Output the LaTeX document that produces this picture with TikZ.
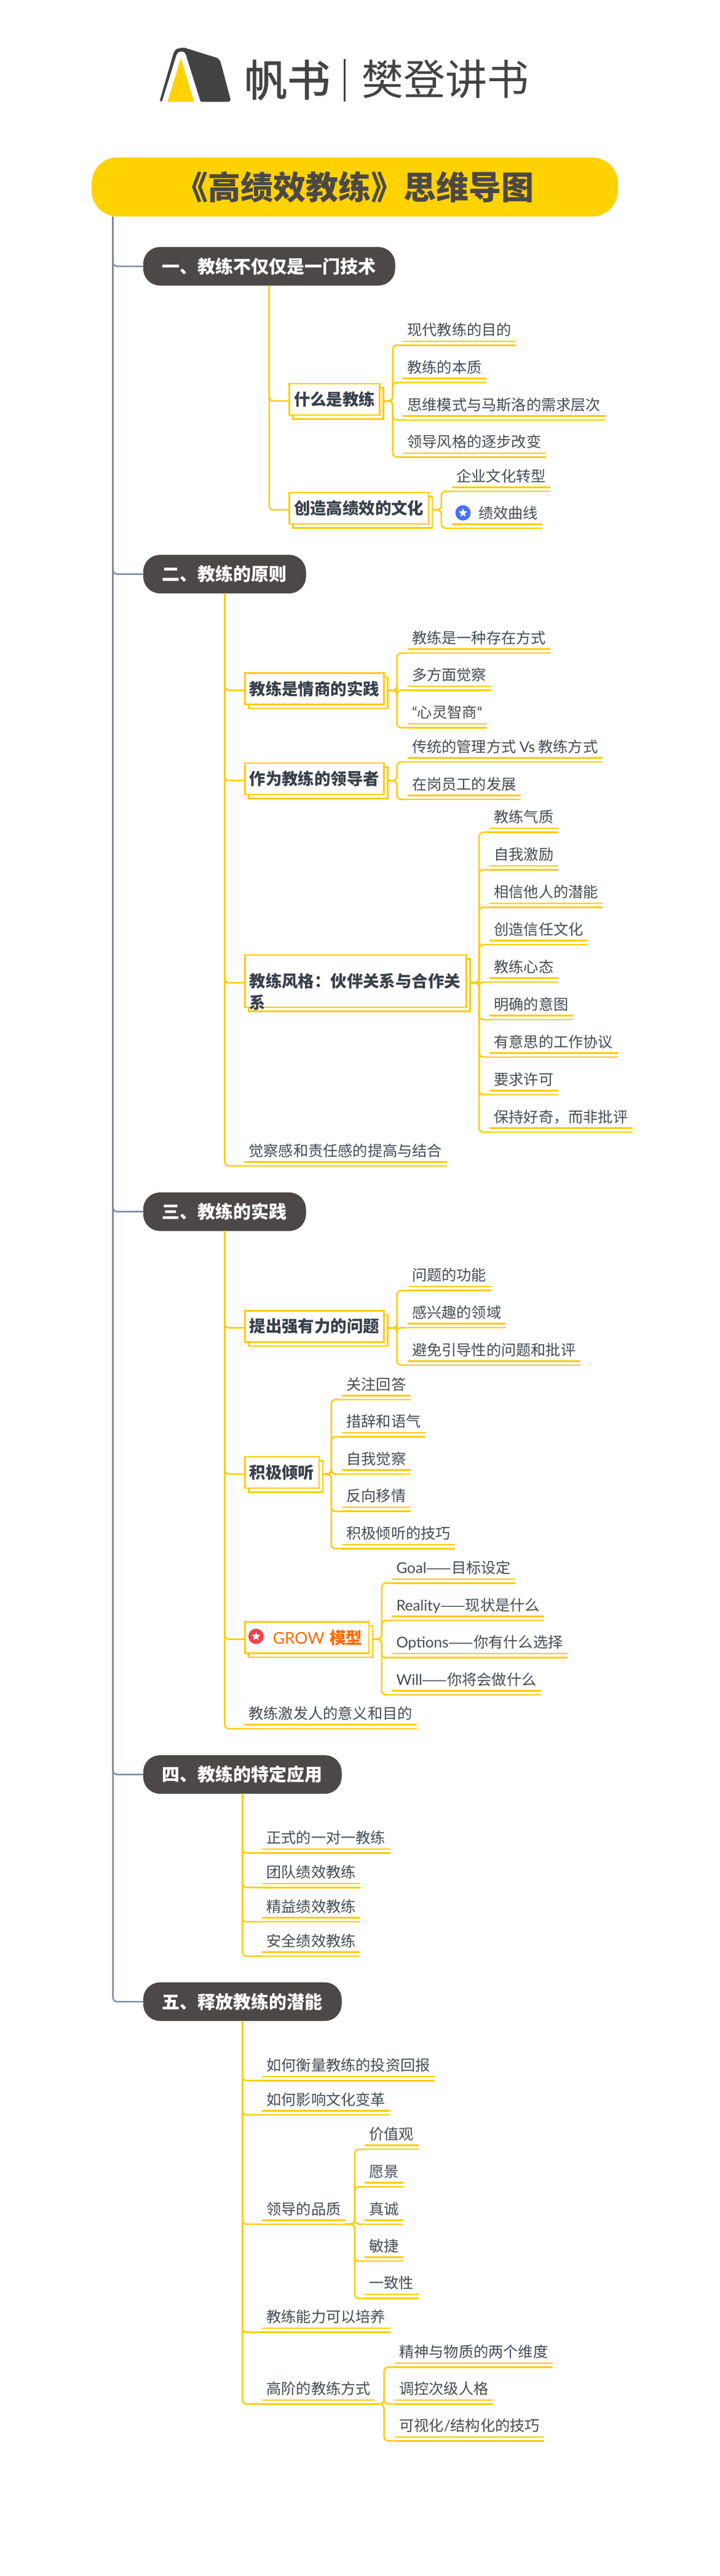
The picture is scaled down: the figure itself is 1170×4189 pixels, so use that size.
\documentclass[tikz,border=0pt]{standalone}
\usepackage{fontspec}
\setmainfont{Noto Sans CJK SC}
\newfontfamily\latf{Lato}
\newfontfamily\brandf[FakeBold=1.6]{Noto Sans CJK SC}
\usetikzlibrary{shapes.geometric,shadows}
\definecolor{ylw}{HTML}{FFCC00}
\definecolor{ttl}{HTML}{FFD200}
\definecolor{drk}{HTML}{4C4847}
\definecolor{logo}{HTML}{434343}
\definecolor{txt}{HTML}{454B54}
\definecolor{btxt}{HTML}{38404A}
\definecolor{slate}{HTML}{7F8C9F}
\definecolor{orng}{HTML}{FF6A00}
\definecolor{bluebadge}{HTML}{4A72F5}
\definecolor{redbadge}{HTML}{F54048}
\tikzset{
 title/.style={fill=ttl,rounded corners=42pt,minimum width=856pt,minimum height=96pt,inner sep=0pt,text=drk,text height=40pt,text depth=0pt,font=\fontsize{53pt}{60pt}\selectfont\bfseries},
 topic/.style={fill=drk,draw=drk!80!black,line width=.6pt,rounded corners=27pt,minimum height=62pt,inner xsep=30.5pt,inner ysep=0pt,anchor=west,text=white,text height=22pt,text depth=0pt,font=\fontsize{29pt}{34pt}\selectfont\bfseries},
 boxed/.style={draw=ylw,fill=white,line width=2.5pt,copy shadow={shadow xshift=6pt,shadow yshift=-6.5pt,draw=ylw,fill=white,line width=2.5pt},inner xsep=7.5pt,inner ysep=0pt,minimum height=51pt,anchor=west,text=btxt,text height=20pt,text depth=0pt,font=\fontsize{26.4pt}{35pt}\selectfont\bfseries},
 leaf/.style={anchor=south west,inner xsep=7.3pt,inner ysep=0pt,text=txt,text height=22pt,text depth=15.6pt,font=\fontsize{24.2pt}{28pt}\selectfont},
 uline/.style={ylw,line width=2.5pt},
 conn/.style={ylw,line width=2.5pt,rounded corners=7pt},
 mainconn/.style={slate,line width=2.5pt,rounded corners=7pt},
 badge/.style={circle,inner sep=0pt,minimum size=25pt},
 starmark/.style={star,star points=5,star point ratio=2.3,fill=white,inner sep=0pt,minimum size=15pt},
 bookdark/.style={fill=logo,draw=none},
 logotext/.style={text=logo,inner sep=0pt,anchor=west}
}
\newcommand\leafnode[4]{\node[leaf] (#1) at (#2,#3) {#4};
 \draw[uline] (#1.south west) -- (#1.south east);
 \draw[uline] ([yshift=6.5pt]#1.south west) -- ([yshift=6.5pt]#1.south east);}
\newcommand\boxnode[5][]{\node[boxed,#1] (#2) at (#3,#4) {#5};
 \coordinate (#2in) at ([yshift=-2.5pt]#2.west);
 \coordinate (#2out) at ([xshift=6pt,yshift=-2.5pt]#2.east);}
\newcommand\kids[3]{\foreach \kidname in {#3} {\draw[conn] (#1) -- (#1 -| #2) |- (\kidname.south west);}}
\newcommand\stemdown[2]{\foreach \kidname in {#2} {\draw[conn] (#1.south) |- (\kidname.south west);}}
\newcommand\stembox[2]{\foreach \kidname in {#2} {\draw[conn] (#1.south) |- (\kidname in);}}
\begin{document}
\begin{tikzpicture}[x=1pt,y=-1pt]
\useasboundingbox (0,0) rectangle (1170,4189);
\fill[white] (0,0) rectangle (1170,4189);
% logo
\fill[bookdark,rounded corners=1.5pt] (259.7,164.3) -- (282.6,85) -- (287.2,79.3) -- (298.7,77.3) -- (353.8,94.3) -- (358.4,99.3) -- (375.3,163.2) -- (372.1,165.5) -- (326.2,165.5) -- (301.9,87.3) -- (298.7,84) -- (290.9,84) -- (287.2,88.3) -- (263.3,165.5) -- cycle;
\fill[ttl] (294.1,94.2) -- (315.7,165.5) -- (272.5,165.5) -- cycle;
\node[logotext,font=\fontsize{70pt}{70pt}\selectfont\brandf] (brand) at (397,130) {帆书};
\fill[logo] (558.5,96) rectangle (561.5,165);
\node[logotext,font=\fontsize{68pt}{68pt}\selectfont] (brand2) at (588,129) {樊登讲书};
% title
\node[title] (root) at (577,304) {《高绩效教练》思维导图};
\coordinate (m) at (183.5,0);
% topics
\node[topic] (t1) at (233,433) {一、教练不仅仅是一门技术};
\node[topic] (t2) at (233,933.6) {二、教练的原则};
\node[topic] (t3) at (233,1970.4) {三、教练的实践};
\node[topic] (t4) at (233,2885.6) {四、教练的特定应用};
\node[topic] (t5) at (233,3255) {五、释放教练的潜能};
\foreach \tname in {t1,t2,t3,t4,t5} {\draw[mainconn] (root.south -| m) |- (\tname.west);}
% stems of second level
\coordinate (s11) at (638.7,0); \coordinate (s12) at (717.8,0);
\coordinate (s21) at (645.5,0); \coordinate (s22) at (645.5,0); \coordinate (s23) at (779,0);
\coordinate (s31) at (645.5,0); \coordinate (s32) at (538.8,0); \coordinate (s33) at (620.8,0);
\coordinate (s51) at (576.8,0); \coordinate (s52) at (624.6,0);
% section 1
\boxnode{b11}{469.4}{649.5}{什么是教练}
\leafnode{a1}{655}{561.4}{现代教练的目的}
\leafnode{a2}{655}{622.2}{教练的本质}
\leafnode{a3}{655}{683}{思维模式与马斯洛的需求层次}
\leafnode{a4}{655}{743.3}{领导风格的逐步改变}
\boxnode{b12}{469.4}{826.7}{创造高绩效的文化}
\leafnode{a5}{735}{799}{企业文化转型}
\leafnode{a6}{735}{859}{\hspace{35.5pt}绩效曲线}
\node[badge,fill=bluebadge] (i1) at (753,834) {};
\node[starmark] (i1s) at (i1) {};
\stembox{t1}{b11,b12}
\kids{b11out}{s11}{a1,a2,a3,a4}
\kids{b12out}{s12}{a5,a6}
% section 2
\boxnode{b21}{397}{1120}{教练是情商的实践}
\leafnode{c1}{662.6}{1062}{教练是一种存在方式}
\leafnode{c2}{662.6}{1122.4}{多方面觉察}
\leafnode{c3}{662.6}{1183.3}{{\latf “}心灵智商{\latf “}}
\boxnode{b22}{397}{1266.7}{作为教练的领导者}
\leafnode{c4}{662.6}{1239}{传统的管理方式 {\latf Vs} 教练方式}
\leafnode{c5}{662.6}{1299.8}{在岗员工的发展}
\boxnode[text width=345pt,align=left,minimum height=85pt]{b23}{397}{1595.5}{教练风格：伙伴关系与合作关\\系}
\leafnode{d1}{796}{1353.4}{教练气质}
\leafnode{d2}{796}{1414.3}{自我激励}
\leafnode{d3}{796}{1475.3}{相信他人的潜能}
\leafnode{d4}{796}{1536.2}{创造信任文化}
\leafnode{d5}{796}{1597}{教练心态}
\leafnode{d6}{796}{1658}{明确的意图}
\leafnode{d7}{796}{1719}{有意思的工作协议}
\leafnode{d8}{796}{1780}{要求许可}
\leafnode{d9}{796}{1841}{保持好奇，而非批评}
\leafnode{c6}{397}{1895.8}{觉察感和责任感的提高与结合}
\stembox{t2}{b21,b22,b23}
\stemdown{t2}{c6}
\kids{b21out}{s21}{c1,c2,c3}
\kids{b22out}{s22}{c4,c5}
\kids{b23out}{s23}{d1,d2,d3,d4,d5,d6,d7,d8,d9}
% section 3
\boxnode{b31}{397}{2156.8}{提出强有力的问题}
\leafnode{e1}{662.6}{2098.6}{问题的功能}
\leafnode{e2}{662.6}{2159}{感兴趣的领域}
\leafnode{e3}{662.6}{2219.8}{避免引导性的问题和批评}
\boxnode{b32}{397}{2394.5}{积极倾听}
\leafnode{f1}{556}{2276}{关注回答}
\leafnode{f2}{556}{2336.5}{措辞和语气}
\leafnode{f3}{556}{2397}{自我觉察}
\leafnode{f4}{556}{2457.7}{反向移情}
\leafnode{f5}{556}{2518.3}{积极倾听的技巧}
\boxnode[text width=186.5pt,align=left,text=orng]{b33}{397}{2663}{\hspace{38pt}{\latf\mdseries GROW} 模型}
\node[badge,fill=redbadge] (i2) at (416.4,2661) {};
\node[starmark] (i2s) at (i2) {};
\leafnode{g1}{637}{2574.4}{{\latf Goal}——目标设定}
\leafnode{g2}{637}{2635}{{\latf Reality}——现状是什么}
\leafnode{g3}{637}{2695.6}{{\latf Options}——你有什么选择}
\leafnode{g4}{637}{2756}{{\latf Will}——你将会做什么}
\leafnode{e4}{397}{2811}{教练激发人的意义和目的}
\stembox{t3}{b31,b32,b33}
\stemdown{t3}{e4}
\kids{b31out}{s31}{e1,e2,e3}
\kids{b32out}{s32}{f1,f2,f3,f4,f5}
\kids{b33out}{s33}{g1,g2,g3,g4}
% section 4
\leafnode{h1}{426}{3013.4}{正式的一对一教练}
\leafnode{h2}{426}{3069.3}{团队绩效教练}
\leafnode{h3}{426}{3125.2}{精益绩效教练}
\leafnode{h4}{426}{3181.1}{安全绩效教练}
\stemdown{t4}{h1,h2,h3,h4}
% section 5
\leafnode{j1}{426}{3383.3}{如何衡量教练的投资回报}
\leafnode{j2}{426}{3439.2}{如何影响文化变革}
\leafnode{j3}{426}{3616.8}{领导的品质}
\leafnode{j4}{426}{3792.7}{教练能力可以培养}
\leafnode{j5}{426}{3909.4}{高阶的教练方式}
\leafnode{k1}{593}{3495}{价值观}
\leafnode{k2}{593}{3556}{愿景}
\leafnode{k3}{593}{3616.8}{真诚}
\leafnode{k4}{593}{3676.8}{敏捷}
\leafnode{k5}{593}{3737.6}{一致性}
\leafnode{l1}{641.7}{3849.4}{精神与物质的两个维度}
\leafnode{l2}{641.7}{3909.4}{调控次级人格}
\leafnode{l3}{641.7}{3969.4}{可视化{\latf /}结构化的技巧}
\stemdown{t5}{j1,j2,j3,j4,j5}
\kids{j3.south east}{s51}{k1,k2,k3,k4,k5}
\kids{j5.south east}{s52}{l1,l2,l3}
\end{tikzpicture}
\end{document}
